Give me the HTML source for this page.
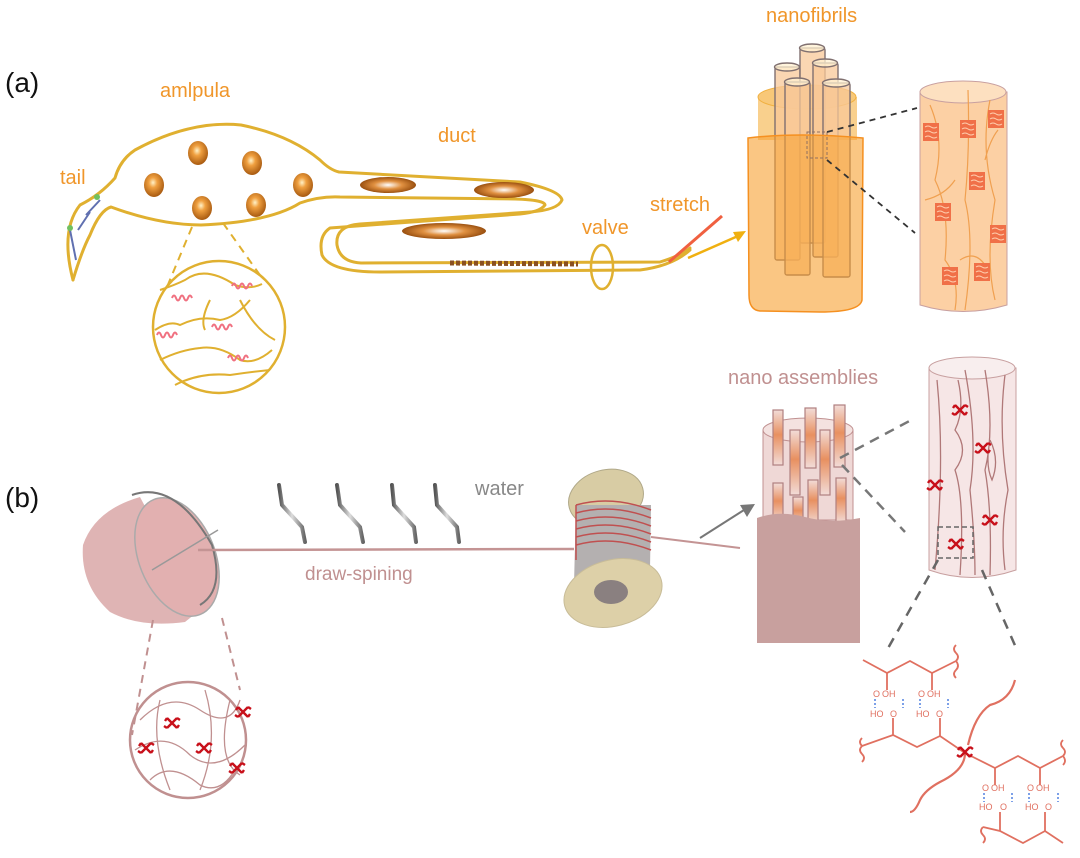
<!DOCTYPE html>
<html><head><meta charset="utf-8"><style>
html,body{margin:0;padding:0;background:#fff;}
svg{display:block;font-family:"Liberation Sans",sans-serif;}
</style></head><body>
<svg width="1080" height="858" viewBox="0 0 1080 858">
<defs>
<radialGradient id="bead" cx="0.45" cy="0.4" r="0.6"><stop offset="0" stop-color="#fff2c8"/><stop offset="0.35" stop-color="#f0a040"/><stop offset="1" stop-color="#a85a10"/></radialGradient>
<radialGradient id="ell" cx="0.5" cy="0.5" r="0.5"><stop offset="0" stop-color="#fff"/><stop offset="0.5" stop-color="#e09040"/><stop offset="1" stop-color="#9a5010"/></radialGradient>
<linearGradient id="pipe" x1="0" x2="1"><stop offset="0" stop-color="#555"/><stop offset="0.5" stop-color="#ddd"/><stop offset="1" stop-color="#666"/></linearGradient>
<linearGradient id="tubeP" x1="0" x2="0" y1="0" y2="1"><stop offset="0" stop-color="#f2dcd8"/><stop offset="0.45" stop-color="#e89060"/><stop offset="1" stop-color="#f2dcd8"/></linearGradient>
<g id="sw"><path d="M-5,-5 L0,0 L5,5 M5,-5 L0,0 L-5,5 M-5,-5 l-2,3 M5,5 l2,-3 M5,-5 l3,2 M-5,5 l-3,-2" stroke="#c8101a" stroke-width="2.4" fill="none"/></g>
<g id="coil"><path d="M0,0 q2,-5 4,0 q2,5 4,0 q2,-5 4,0 q2,5 4,0 q2,-5 4,0" stroke="#f07080" stroke-width="2" fill="none"/></g>
<g id="blk"><rect x="0" y="0" width="16" height="18" fill="#f07048"/><path d="M2,4 q3,-2 6,0 q3,2 6,0 M2,9 q3,-2 6,0 q3,2 6,0 M2,14 q3,-2 6,0 q3,2 6,0" stroke="#ffd0b0" stroke-width="1" fill="none"/></g>
</defs>

<text x="5" y="92" font-size="28" fill="#111">(a)</text>
<text x="5" y="507" font-size="28" fill="#111">(b)</text>
<g fill="#f0962a" font-size="20">
<text x="160" y="97">amlpula</text>
<text x="438" y="142">duct</text>
<text x="60" y="184">tail</text>
<text x="582" y="234">valve</text>
<text x="650" y="211">stretch</text>
<text x="766" y="22">nanofibrils</text>
</g>

<!-- gland -->
<g fill="none" stroke="#e0b030" stroke-width="3" stroke-linejoin="round" stroke-linecap="round">
<path d="M73,280 Q60,230 80,205 Q100,195 115,178 Q120,160 135,150 Q190,120 241,125 Q290,135 320,160 Q330,170 339,172 L520,182 Q560,190 562,200 Q558,210 530,212 L360,224 Q335,226 337,245 Q340,262 361,263 L660,262 Q680,256 690,248"/>
<path d="M73,280 Q82,250 90,235 Q100,210 111,207 Q160,225 201,225 Q270,222 300,203 Q320,196 340,197 L515,199 Q545,200 545,205 Q540,212 520,214 L330,228 Q318,236 322,255 Q330,272 380,272 L640,270 Q672,266 690,250"/>
</g>
<ellipse cx="602" cy="267" rx="11" ry="22" stroke="#e0b030" stroke-width="2.5" fill="none"/>
<path d="M90,212 L78,230 M86,215 L100,200 M70,230 L76,260" stroke="#6070b0" stroke-width="2" fill="none"/>
<circle cx="97" cy="197" r="3" fill="#70c060"/><circle cx="70" cy="228" r="3" fill="#70c060"/>
<g fill="url(#bead)">
<ellipse cx="198" cy="153" rx="10" ry="12"/><ellipse cx="252" cy="163" rx="10" ry="12"/>
<ellipse cx="154" cy="185" rx="10" ry="12"/><ellipse cx="303" cy="185" rx="10" ry="12"/>
<ellipse cx="202" cy="208" rx="10" ry="12"/><ellipse cx="256" cy="205" rx="10" ry="12"/>
</g>
<g fill="url(#ell)">
<ellipse cx="388" cy="185" rx="28" ry="8"/><ellipse cx="504" cy="190" rx="30" ry="8"/><ellipse cx="444" cy="231" rx="42" ry="8"/>
</g>
<path d="M450,263 L578,264" stroke="#8a5020" stroke-width="5" stroke-dasharray="4,2"/>
<line x1="669" y1="262" x2="722" y2="216" stroke="#f06040" stroke-width="3"/>
<line x1="688" y1="258" x2="738" y2="236" stroke="#f0b010" stroke-width="2.5"/>
<path d="M746,231 L733,232 L738,242 Z" fill="#f0b010"/>

<!-- zoom circle a -->
<g stroke="#e0b030" stroke-width="2" fill="none">
<path d="M192,227 L167,287 M223,223 L262,278" stroke-dasharray="8,6"/>
<circle cx="219" cy="327" r="66" stroke-width="2.5"/>
<path d="M160,290 Q175,285 185,280 Q205,265 235,285 Q250,290 262,284 M155,330 Q170,320 180,325 Q200,315 220,320 Q235,318 250,300 M160,360 Q180,350 200,348 Q220,345 240,360 Q255,365 272,350 M175,385 Q200,372 230,375 Q250,372 270,370 M210,300 Q200,320 205,330 M240,300 Q255,330 275,340"/>
</g>
<use href="#coil" x="172" y="298"/><use href="#coil" x="232" y="286"/><use href="#coil" x="157" y="335"/><use href="#coil" x="212" y="327"/><use href="#coil" x="228" y="358"/>

<!-- nanofibrils bundle -->
<path d="M758,97 L758,140 L857,140 L857,97 Z" fill="#f8c470" opacity="0.8"/>
<ellipse cx="807" cy="97" rx="49" ry="12" fill="#f8c878" stroke="#f0b040"/>
<g fill="#f8c898" fill-opacity="0.75" stroke="#807070" stroke-width="1.4">
<rect x="775" y="67" width="25" height="193" rx="2"/><ellipse cx="787" cy="67" rx="12.5" ry="4" fill="#fff0d0"/>
<rect x="800" y="48" width="25" height="195" rx="2"/><ellipse cx="812" cy="48" rx="12.5" ry="4" fill="#fff0d0"/>
<rect x="813" y="63" width="25" height="194" rx="2"/><ellipse cx="825" cy="63" rx="12.5" ry="4" fill="#fff0d0"/>
<rect x="785" y="82" width="25" height="193" rx="2"/><ellipse cx="797" cy="82" rx="12.5" ry="4" fill="#fff0d0"/>
<rect x="823" y="83" width="27" height="194" rx="2"/><ellipse cx="836" cy="83" rx="13.5" ry="4" fill="#fff0d0"/>
</g>
<path d="M748,138 Q800,132 863,138 L862,300 Q860,312 820,312 L760,311 Q749,310 749,295 Z" fill="#f7a030" fill-opacity="0.6" stroke="#f59020" stroke-width="1.5"/>
<rect x="807" y="132" width="20" height="26" fill="none" stroke="#907060" stroke-dasharray="3,2"/>
<path d="M827,132 L917,108 M827,160 L915,233" stroke="#333" stroke-width="1.8" stroke-dasharray="6,5"/>
<path d="M920,92 L920,305 Q963,318 1007,305 L1007,92 Z" fill="#fcd0a4" stroke="#c8a0a0"/>
<ellipse cx="963" cy="92" rx="43" ry="11" fill="#fde0c0" stroke="#c8a0a0"/>
<g stroke="#f0a050" fill="none" stroke-width="1.2"><path d="M930,105 Q945,140 935,180 Q950,210 945,260 Q960,280 955,310 M968,90 Q970,150 965,200 Q975,240 965,310 M990,100 Q980,150 995,200 Q985,260 995,300 M925,200 Q945,195 955,180 M960,260 Q975,250 985,265 M985,160 Q990,140 998,130"/></g>
<use href="#blk" x="923" y="123"/><use href="#blk" x="960" y="120"/><use href="#blk" x="988" y="110"/><use href="#blk" x="969" y="172"/><use href="#blk" x="935" y="203"/><use href="#blk" x="990" y="225"/><use href="#blk" x="942" y="267"/><use href="#blk" x="974" y="263"/>

<!-- (b) -->
<text x="728" y="384" font-size="20" fill="#c09090">nano assemblies</text>
<text x="475" y="495" font-size="20" fill="#888">water</text>
<text x="305" y="580" font-size="19" fill="#c09090">draw-spining</text>

<!-- beaker -->
<path d="M140,497 Q95,510 83,545 Q80,585 110,612 Q140,628 185,622 L200,610 Z" fill="#dcacac" opacity="0.9"/>
<ellipse cx="177" cy="557" rx="38" ry="62" transform="rotate(-22 177 557)" fill="#e2b0b0" stroke="#aaa" stroke-width="1.5"/>
<path d="M132,495 Q175,480 212,545 Q225,590 200,605" stroke="#777" stroke-width="2" fill="none"/>
<line x1="152" y1="570" x2="218" y2="530" stroke="#999" stroke-width="1.5"/>
<line x1="198" y1="550" x2="574" y2="549" stroke="#c49494" stroke-width="2.5"/>
<g stroke="url(#pipe)" stroke-width="4" fill="none" stroke-linecap="round">
<path d="M279,485 L282,505 L302,527 L305,542"/>
<path d="M337,485 L340,505 L360,527 L363,542"/>
<path d="M392,485 L394,505 L414,527 L416,542"/>
<path d="M435,485 L437,505 L457,527 L459,542"/>
</g>
<!-- bottom-left circle -->
<path d="M153,620 L132,735 M222,618 L240,690" stroke="#c09090" stroke-width="2" stroke-dasharray="8,6"/>
<circle cx="188" cy="740" r="58" fill="none" stroke="#c09090" stroke-width="2.5"/>
<g stroke="#c09090" stroke-width="1.3" fill="none"><path d="M140,720 Q170,690 200,710 Q230,730 240,700 M135,750 Q165,730 190,755 Q215,775 245,745 M150,780 Q170,760 200,785 Q220,795 235,770 M160,700 Q150,740 170,790 M205,690 Q220,740 200,790 M230,700 Q215,760 240,775"/></g>
<use href="#sw" x="172" y="723"/><use href="#sw" x="243" y="712"/><use href="#sw" x="146" y="748"/><use href="#sw" x="204" y="748"/><use href="#sw" x="237" y="768"/>

<!-- spool -->
<ellipse cx="606" cy="498" rx="38" ry="28" transform="rotate(-15 606 498)" fill="#d8cca4" stroke="#b0a888"/>
<path d="M576,505 L574,585 L650,570 L651,505 Z" fill="#b4b0b0"/>
<g stroke="#c05050" stroke-width="1.5" fill="none"><path d="M576,505 Q612,495 651,510 M576,513 Q612,503 651,518 M576,521 Q612,511 651,526 M576,529 Q612,519 651,534 M576,537 Q612,527 651,542 M576,545 Q612,535 651,550 M576,505 L576,560"/></g>
<line x1="651" y1="537" x2="740" y2="548" stroke="#c49494" stroke-width="2"/>
<ellipse cx="613" cy="593" rx="50" ry="33" transform="rotate(-15 613 593)" fill="#ddd0a8" stroke="#c8bc98"/>
<ellipse cx="611" cy="592" rx="17" ry="12" fill="#8a8080"/>
<line x1="700" y1="538" x2="744" y2="510" stroke="#777" stroke-width="2"/>
<path d="M755,504 L740,505 L747,517 Z" fill="#777"/>

<!-- nano assemblies bundle -->
<path d="M763,430 L763,520 L853,520 L853,430 Z" fill="#efd8d6" stroke="#c09090"/>
<ellipse cx="808" cy="430" rx="45" ry="12" fill="#f4e2e0" stroke="#c09090"/>
<g fill="url(#tubeP)" stroke="#b08080" stroke-width="1.2">
<rect x="773" y="410" width="10" height="55"/><rect x="805" y="408" width="11" height="60"/><rect x="834" y="405" width="11" height="62"/>
<rect x="790" y="430" width="10" height="65"/><rect x="820" y="430" width="10" height="65"/>
<rect x="773" y="483" width="10" height="40"/><rect x="793" y="497" width="10" height="30"/><rect x="808" y="480" width="10" height="45"/><rect x="836" y="478" width="10" height="45"/>
</g>
<path d="M757,518 Q780,510 805,517 Q830,524 860,518 L860,643 L757,643 Z" fill="#c8a09e"/>
<path d="M840,458 L915,418 M842,465 L905,532" stroke="#777" stroke-width="2.5" stroke-dasharray="10,7"/>
<path d="M929,368 L929,570 Q972,585 1016,570 L1016,368 Z" fill="#f6e6e6" stroke="#c8a0a0"/>
<ellipse cx="972" cy="368" rx="43" ry="11" fill="#f8eeee" stroke="#c8a0a0"/>
<g stroke="#b07878" fill="none" stroke-width="1.3"><path d="M937,380 Q945,460 935,570 M958,380 Q965,410 955,430 Q970,450 955,470 Q965,500 960,575 M965,370 Q978,440 970,490 Q975,540 975,575 M985,370 Q995,430 985,470 Q992,510 990,575 M1005,375 Q998,430 1008,490 Q1000,530 1005,570 M990,440 Q1000,460 992,480 Q985,465 990,440"/></g>
<use href="#sw" x="960" y="410"/><use href="#sw" x="983" y="448"/><use href="#sw" x="935" y="485"/><use href="#sw" x="990" y="520"/><use href="#sw" x="956" y="544"/>
<rect x="938" y="527" width="35" height="31" fill="none" stroke="#666" stroke-width="1.5" stroke-dasharray="5,3"/>
<path d="M938,560 L887,650 M982,570 L1017,650" stroke="#666" stroke-width="2.5" stroke-dasharray="10,8"/>

<!-- chemistry -->
<g stroke="#e07060" stroke-width="1.8" fill="none">
<path d="M863,660 L887,673 L910,661 L932,673 L956,661"/>
<path d="M887,673 L887,690 M932,673 L932,690"/>
<path d="M862,746 L893,735 L917,747 L940,736 L965,753"/>
<path d="M893,735 L893,718 M940,736 L940,718"/>
<path d="M965,753 L995,768 L1018,756 L1040,768 L1063,756"/>
<path d="M995,768 L995,785 M1040,768 L1040,785"/>
<path d="M983,827 L1000,831 L1023,843 L1045,831 L1063,843"/>
<path d="M1000,831 L1000,812 M1045,831 L1045,812"/>
<path d="M956,661 q4,-4 0,-8 q-4,-4 0,-8 M956,661 q4,5 0,9 q-4,4 0,8"/>
<path d="M862,746 q-4,4 0,8 q4,4 0,8 M862,746 q-4,-4 0,-8"/>
<path d="M1063,756 q4,-4 0,-8 q-4,-4 0,-8 M1063,756 q4,5 0,9"/>
<path d="M983,827 q-4,4 0,8 q4,4 0,8"/>
<path d="M965,753 Q965,770 940,782 Q925,790 920,800 Q915,812 910,812" stroke-width="2.2"/>
<path d="M968,745 Q975,715 990,705 Q1010,700 1015,680" stroke-width="2.2"/>
</g>
<use href="#sw" x="965" y="752"/>
<g font-size="9" fill="#e07060">
<text x="873" y="697">O</text><text x="882" y="697">OH</text><text x="918" y="697">O</text><text x="927" y="697">OH</text>
<text x="870" y="717">HO</text><text x="890" y="717">O</text><text x="916" y="717">HO</text><text x="936" y="717">O</text>
<text x="982" y="791">O</text><text x="991" y="791">OH</text><text x="1027" y="791">O</text><text x="1036" y="791">OH</text>
<text x="979" y="810">HO</text><text x="1000" y="810">O</text><text x="1025" y="810">HO</text><text x="1045" y="810">O</text>
</g>
<g stroke="#5080e0" stroke-width="1.5" stroke-dasharray="2,2"><path d="M875,699 L875,708 M903,699 L903,708 M920,699 L920,708 M948,699 L948,708 M984,793 L984,802 M1012,793 L1012,802 M1029,793 L1029,802 M1058,793 L1058,802"/></g>
</svg>
</body></html>
